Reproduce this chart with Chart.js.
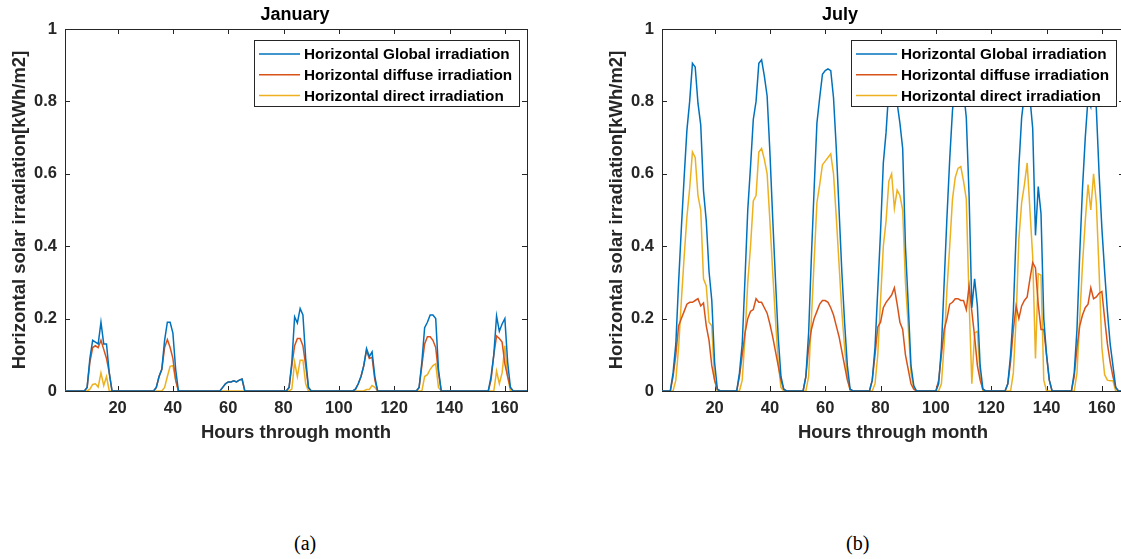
<!DOCTYPE html>
<html>
<head>
<meta charset="utf-8">
<script src="https://cdn.jsdelivr.net/npm/chart.js@4.4.0/dist/chart.umd.min.js"></script>
<style>
  html, body { margin: 0; padding: 0; background: #fff; }
  body { width: 1121px; height: 559px; overflow: hidden; position: relative; }
  canvas { position: absolute; top: 0; }
  .cap { position: absolute; top: 532px; font-family: "Liberation Serif", "Times New Roman", serif; font-size: 20px; color: #000; }
</style>
</head>
<body>
<canvas id="jan" style="left:0px"></canvas>
<canvas id="jul" style="left:597px"></canvas>
<div class="cap" style="left:294px">(a)</div>
<div class="cap" style="left:846px">(b)</div>
<script>
// ======== Data ========
// hours 1..168 (one week), one row per day below
const hours = Array.from({length: 168}, (_, i) => i + 1);
const xTicks = [20, 40, 60, 80, 100, 120, 140, 160];
const seriesNames = ['Horizontal Global irradiation', 'Horizontal diffuse irradiation', 'Horizontal direct irradiation'];

const janGlobal = [
  0,0,0,0,0,0,0,0,0.01,0.09,0.14,0.135,0.13,0.19,0.13,0.13,0.05,0,0,0,0,0,0,0,
  0,0,0,0,0,0,0,0,0,0.01,0.04,0.06,0.14,0.19,0.19,0.16,0.06,0,0,0,0,0,0,0,
  0,0,0,0,0,0,0,0,0,0.01,0.02,0.025,0.025,0.028,0.025,0.03,0.033,0,0,0,0,0,0,0,
  0,0,0,0,0,0,0,0,0,0.01,0.08,0.205,0.188,0.228,0.21,0.09,0.01,0,0,0,0,0,0,0,
  0,0,0,0,0,0,0,0,0,0.005,0.02,0.04,0.07,0.117,0.095,0.108,0.04,0,0,0,0,0,0,0,
  0,0,0,0,0,0,0,0,0.01,0.08,0.175,0.19,0.21,0.21,0.2,0.06,0,0,0,0,0,0,0,0,
  0,0,0,0,0,0,0,0,0,0,0.04,0.1,0.207,0.165,0.185,0.2,0.08,0.01,0,0,0,0,0,0
];
const janDiffuse = [
  0,0,0,0,0,0,0,0,0.01,0.08,0.12,0.125,0.12,0.14,0.115,0.09,0.05,0,0,0,0,0,0,0,
  0,0,0,0,0,0,0,0,0,0.01,0.04,0.06,0.12,0.142,0.12,0.09,0.03,0,0,0,0,0,0,0,
  0,0,0,0,0,0,0,0,0,0.01,0.02,0.025,0.025,0.028,0.025,0.03,0.033,0,0,0,0,0,0,0,
  0,0,0,0,0,0,0,0,0,0.01,0.07,0.125,0.145,0.145,0.125,0.07,0.01,0,0,0,0,0,0,0,
  0,0,0,0,0,0,0,0,0,0.005,0.02,0.04,0.07,0.112,0.09,0.093,0.03,0,0,0,0,0,0,0,
  0,0,0,0,0,0,0,0,0.01,0.07,0.13,0.15,0.15,0.14,0.12,0.05,0,0,0,0,0,0,0,0,
  0,0,0,0,0,0,0,0,0,0,0.03,0.1,0.152,0.145,0.135,0.075,0.04,0.01,0,0,0,0,0,0
];
const janDirect = [
  0,0,0,0,0,0,0,0,0,0.005,0.018,0.02,0.011,0.05,0.015,0.04,0,0,0,0,0,0,0,0,
  0,0,0,0,0,0,0,0,0,0,0,0,0.01,0.04,0.068,0.07,0.03,0,0,0,0,0,0,0,
  0,0,0,0,0,0,0,0,0,0,0,0,0,0,0,0,0,0,0,0,0,0,0,0,
  0,0,0,0,0,0,0,0,0,0,0.005,0.08,0.04,0.085,0.085,0.02,0,0,0,0,0,0,0,0,
  0,0,0,0,0,0,0,0,0,0,0,0,0,0.004,0.004,0.015,0.01,0,0,0,0,0,0,0,
  0,0,0,0,0,0,0,0,0,0,0.04,0.045,0.06,0.07,0.075,0.01,0,0,0,0,0,0,0,0,
  0,0,0,0,0,0,0,0,0,0,0,0,0.055,0.02,0.05,0.125,0.04,0,0,0,0,0,0,0
];

const julGlobal = [
  0,0,0,0,0.05,0.13,0.3,0.45,0.59,0.72,0.8,0.905,0.895,0.795,0.735,0.553,0.47,0.33,0.25,0.08,0.005,0,0,0,
  0,0,0,0,0.05,0.13,0.31,0.5,0.62,0.75,0.8,0.905,0.915,0.87,0.815,0.66,0.48,0.31,0.15,0.04,0.005,0,0,0,
  0,0,0,0,0.04,0.16,0.37,0.56,0.74,0.81,0.875,0.885,0.89,0.885,0.81,0.67,0.5,0.33,0.19,0.07,0.005,0,0,0,
  0,0,0,0,0.03,0.12,0.28,0.44,0.63,0.715,0.835,0.865,0.79,0.795,0.74,0.67,0.4,0.24,0.07,0.015,0,0,0,0,
  0,0,0,0,0.02,0.12,0.3,0.48,0.64,0.775,0.845,0.87,0.87,0.83,0.755,0.54,0.23,0.31,0.235,0.07,0.005,0,0,0,
  0,0,0,0,0,0.02,0.1,0.22,0.435,0.62,0.755,0.82,0.89,0.81,0.725,0.43,0.565,0.49,0.2,0.1,0.03,0,0,0,
  0,0,0,0,0,0.05,0.17,0.38,0.56,0.7,0.81,0.785,0.86,0.78,0.6,0.45,0.33,0.22,0.13,0.07,0.01,0,0,0
];
const julDiffuse = [
  0,0,0,0,0.04,0.1,0.18,0.2,0.22,0.24,0.245,0.245,0.25,0.255,0.235,0.243,0.18,0.14,0.07,0.03,0.005,0,0,0,
  0,0,0,0,0.04,0.1,0.16,0.2,0.22,0.225,0.255,0.245,0.245,0.23,0.215,0.185,0.15,0.11,0.07,0.03,0.005,0,0,0,
  0,0,0,0,0.04,0.12,0.17,0.2,0.22,0.24,0.25,0.25,0.245,0.23,0.21,0.18,0.15,0.11,0.07,0.03,0.005,0,0,0,
  0,0,0,0,0.03,0.1,0.177,0.19,0.23,0.245,0.255,0.265,0.285,0.24,0.19,0.17,0.1,0.06,0.02,0.005,0,0,0,0,
  0,0,0,0,0.03,0.1,0.17,0.2,0.24,0.245,0.255,0.255,0.25,0.25,0.225,0.29,0.22,0.15,0.07,0.03,0.005,0,0,0,
  0,0,0,0,0,0.02,0.08,0.17,0.235,0.2,0.235,0.25,0.26,0.31,0.355,0.34,0.24,0.17,0.17,0.1,0.03,0,0,0,
  0,0,0,0,0,0.04,0.12,0.18,0.21,0.23,0.24,0.285,0.255,0.26,0.27,0.275,0.2,0.13,0.08,0.04,0.01,0,0,0
];
const julDirect = [
  0,0,0,0,0,0.03,0.12,0.25,0.37,0.48,0.56,0.66,0.645,0.54,0.5,0.31,0.29,0.19,0.18,0.03,0,0,0,0,
  0,0,0,0,0,0.03,0.15,0.3,0.4,0.525,0.54,0.66,0.67,0.64,0.6,0.47,0.33,0.2,0.08,0.01,0,0,0,0,
  0,0,0,0,0,0.04,0.2,0.36,0.52,0.57,0.625,0.635,0.645,0.655,0.6,0.48,0.35,0.22,0.12,0.04,0,0,0,0,
  0,0,0,0,0,0.02,0.1,0.25,0.4,0.47,0.58,0.6,0.505,0.555,0.54,0.5,0.3,0.18,0.05,0.01,0,0,0,0,
  0,0,0,0,0,0.02,0.13,0.28,0.4,0.53,0.59,0.615,0.62,0.58,0.53,0.25,0.02,0.16,0.165,0.04,0,0,0,0,
  0,0,0,0,0,0,0,0.05,0.2,0.42,0.52,0.57,0.63,0.5,0.37,0.09,0.324,0.32,0.03,0,0,0,0,0,
  0,0,0,0,0,0,0.05,0.2,0.35,0.47,0.57,0.5,0.6,0.52,0.33,0.12,0.045,0.03,0.028,0.028,0,0,0,0
];

// ======== Styling ========
const FONT = "'Liberation Sans', Arial, sans-serif";
const TXT = '#262626';
const COLORS = ['#0072BD', '#D95319', '#EDB120'];
const CANVAS_W = 560, CANVAS_H = 470;

// frame with inward ticks on all four sides (matlab style)
const boxAxes = {
  id: 'boxAxes',
  beforeDatasetsDraw(chart) {
    const {ctx, chartArea: a, scales: {x, y}} = chart;
    ctx.save();
    ctx.strokeStyle = TXT;
    ctx.lineWidth = 1;
    ctx.strokeRect(a.left + 0.5, a.top + 0.5, a.right - a.left, a.bottom - a.top);
    const tl = 5;
    ctx.beginPath();
    x.ticks.forEach(t => {
      const px = Math.round(x.getPixelForValue(t.value)) + 0.5;
      ctx.moveTo(px, a.bottom); ctx.lineTo(px, a.bottom - tl);
      ctx.moveTo(px, a.top); ctx.lineTo(px, a.top + tl);
    });
    y.ticks.forEach(t => {
      const py = Math.round(y.getPixelForValue(t.value)) + 0.5;
      ctx.moveTo(a.left, py); ctx.lineTo(a.left + tl, py);
      ctx.moveTo(a.right, py); ctx.lineTo(a.right - tl, py);
    });
    ctx.stroke();
    ctx.restore();
  }
};

// title + boxed legend drawn on top
const boxLegend = {
  id: 'boxLegend',
  afterDraw(chart, args, opts) {
    const {ctx} = chart;
    ctx.save();
    ctx.fillStyle = '#000';
    ctx.font = 'bold 18px ' + FONT;
    ctx.textAlign = 'center';
    ctx.textBaseline = 'middle';
    ctx.fillText(opts.title, opts.titleX, 15);

    ctx.fillStyle = '#fff';
    ctx.fillRect(opts.x, opts.y, opts.w, opts.h);
    ctx.strokeStyle = TXT;
    ctx.lineWidth = 1;
    ctx.strokeRect(opts.x + 0.5, opts.y + 0.5, opts.w, opts.h);
    ctx.font = 'bold 15.3px ' + FONT;
    ctx.textAlign = 'left';
    chart.data.datasets.forEach((ds, i) => {
      const ly = opts.y + 14 + i * 20.8;
      ctx.strokeStyle = ds.borderColor;
      ctx.lineWidth = 1.5;
      ctx.beginPath();
      ctx.moveTo(opts.x + 5, ly); ctx.lineTo(opts.x + 46, ly);
      ctx.stroke();
      ctx.fillStyle = '#000';
      ctx.fillText(ds.label, opts.x + 50, ly + 1);
    });
    ctx.restore();
  }
};

function makeChart(id, title, titleX, g, d, b) {
  const canvas = document.getElementById(id);
  canvas.width = CANVAS_W; canvas.height = CANVAS_H;
  canvas.style.width = CANVAS_W + 'px'; canvas.style.height = CANVAS_H + 'px';
  return new Chart(canvas, {
    type: 'line',
    data: {
      labels: hours,
      datasets: [g, d, b].map((vals, i) => ({
        label: seriesNames[i],
        data: vals,
        borderColor: COLORS[i],
        backgroundColor: COLORS[i],
        borderWidth: 1.5,
        pointRadius: 0,
        tension: 0,
        fill: false
      }))
    },
    options: {
      responsive: false,
      animation: false,
      layout: { padding: { top: 29, right: 33, left: 0, bottom: 0 } },
      plugins: {
        legend: { display: false },
        tooltip: { enabled: false },
        boxLegend: { title, titleX, x: 254, y: 40, w: 265, h: 66 }
      },
      scales: {
        x: {
          type: 'linear', min: 1, max: 168,
          afterBuildTicks: s => { s.ticks = xTicks.map(v => ({value: v})); },
          afterFit: s => { s.height = CANVAS_H - 391; },
          grid: { display: false, drawTicks: false },
          border: { display: false },
          ticks: { color: TXT, font: { family: FONT, size: 16.5, weight: 'bold' }, padding: 8, maxRotation: 0, autoSkip: false },
          title: { display: true, text: 'Hours through month', color: TXT,
                   font: { family: FONT, size: 18.5, weight: 'bold' }, padding: { top: 0, bottom: 26 } }
        },
        y: {
          min: 0, max: 1,
          ticks: { stepSize: 0.2, color: TXT, font: { family: FONT, size: 16.5, weight: 'bold' }, padding: 8,
                   callback: v => String(Math.round(v * 10) / 10) },
          afterFit: s => { s.width = 65; },
          grid: { display: false, drawTicks: false },
          border: { display: false },
          title: { display: true, text: 'Horizontal solar irradiation[kWh/m2]', color: TXT,
                   font: { family: FONT, size: 18.5, weight: 'bold' }, padding: { top: 9, bottom: 0 } }
        }
      }
    },
    plugins: [boxAxes, boxLegend]
  });
}

makeChart('jan', 'January', 295, janGlobal, janDiffuse, janDirect);
makeChart('jul', 'July', 243, julGlobal, julDiffuse, julDirect);
</script>
</body>
</html>
